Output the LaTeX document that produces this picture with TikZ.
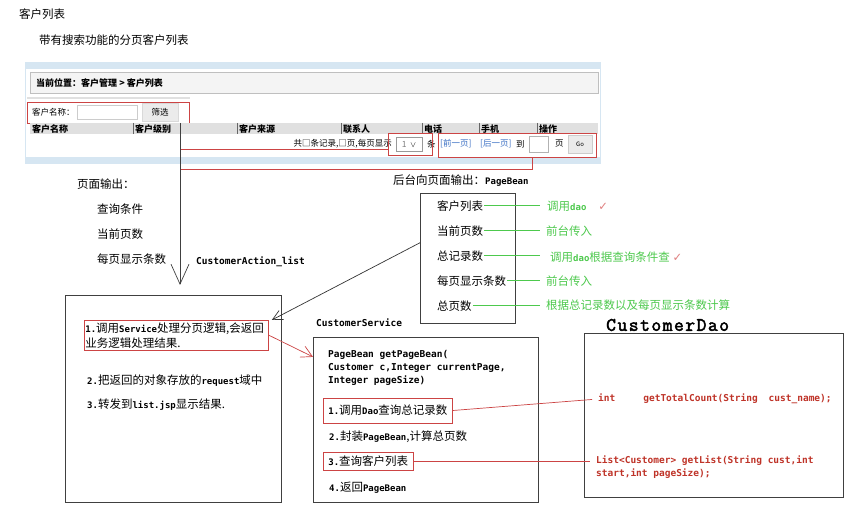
\documentclass[tikz,border=0pt]{standalone}
\usepackage{fontspec}
\setmainfont{Noto Sans CJK SC}
\newfontfamily\codefont{DejaVu Sans Mono}
\newfontfamily\daofont{Latin Modern Mono}[AutoFakeBold=2.5,LetterSpace=8]
\newfontfamily\symfont{DejaVu Sans}
\usetikzlibrary{arrows.meta,positioning,calc}
\definecolor{MarkRed}{HTML}{CC4444}
\definecolor{CodeRed}{HTML}{BF3328}
\definecolor{NoteGreen}{HTML}{4DC94D}
\definecolor{TickRed}{HTML}{E08080}
\definecolor{LinkBlue}{HTML}{3A6FC4}
\definecolor{PanelBlue}{HTML}{D6E6F2}
\definecolor{BarGrey}{HTML}{F4F4F4}
\definecolor{HeadGrey}{HTML}{E0E0E0}
\newcommand\cd[1]{{\codefont\bfseries\fontsize{9}{11}\selectfont #1}}
\newcommand\tick{{\symfont\color{TickRed}✓}}
\tikzset{
  txt/.style={anchor=west,inner sep=0pt},
  box/.style={draw=black!75,line width=0.9pt,anchor=north west,inner sep=0pt},
  markbox/.style={draw=MarkRed,line width=0.8pt},
  small/.style={font=\fontsize{8.5}{10}\selectfont},
  code/.style={font=\codefont\bfseries\fontsize{9.5}{13}\selectfont},
  link/.style={line width=0.7pt}
}

\begin{document}
\begin{tikzpicture}[x=1pt,y=-1pt,font=\fontsize{11.5}{15}\selectfont]
  \useasboundingbox[fill=white] (0,0) rectangle (844,505);
  % page title
  \node[txt] (title) at (19,14) {客户列表};
  \node[txt] (subtitle) at (39,40) {带有搜索功能的分页客户列表};

  % screenshot of the list page
  \node[draw=PanelBlue,fill=white,anchor=north west,inner sep=0pt,minimum width=575,minimum height=101] (panel) at (25,62) {};
  \fill[PanelBlue] (25,62) rectangle (600,69);
  \fill[PanelBlue] (25,157) rectangle (600,163);
  \node[draw=black!25,fill=BarGrey,anchor=north west,inner sep=0pt,minimum width=568,minimum height=21] (crumb) at (30,72) {};
  \node[txt,font=\bfseries\fontsize{9}{11}\selectfont,right=6pt of crumb.west] (crumbtext) {当前位置：客户管理 > 客户列表};
  \draw[black!12,line width=1.5pt] (27,98) -- (190,98);
  \node[markbox,anchor=north west,inner sep=0pt,minimum width=162,minimum height=21] (search) at (27,102) {};
  \node[txt,small] (namelabel) at (32,112) {客户名称：};
  \node[draw=black!20,fill=white,anchor=west,inner sep=0pt,minimum width=60,minimum height=14] (namefield) at (77,112) {};
  \node[draw=black!15,fill=black!8,inner sep=0pt,minimum width=36,minimum height=18,small] (filterbtn) at (160,112) {筛选};
  \fill[HeadGrey] (30,123) rectangle (598,134);
  \draw[black!60] (133,123) -- (133,134) (237,123) -- (237,134) (341,123) -- (341,134)
                  (422,123) -- (422,134) (479,123) -- (479,134) (537,123) -- (537,134);
  \node[txt,font=\bfseries\fontsize{9}{10}\selectfont] (hName) at (32,129) {客户名称};
  \node[txt,font=\bfseries\fontsize{9}{10}\selectfont] (hLevel) at (135,129) {客户级别};
  \node[txt,font=\bfseries\fontsize{9}{10}\selectfont] (hSource) at (239,129) {客户来源};
  \node[txt,font=\bfseries\fontsize{9}{10}\selectfont] (hLinkman) at (343,129) {联系人};
  \node[txt,font=\bfseries\fontsize{9}{10}\selectfont] (hPhone) at (424,129) {电话};
  \node[txt,font=\bfseries\fontsize{9}{10}\selectfont] (hMobile) at (481,129) {手机};
  \node[txt,font=\bfseries\fontsize{9}{10}\selectfont] (hAction) at (539,129) {操作};
  % pager
  \node[anchor=east,inner sep=0pt,small] (count) at (392,144) {共□条记录,□页,每页显示};
  \node[draw=black!40,inner sep=0pt,minimum width=26,minimum height=14,small] (pagesize) at (409,144) {\textcolor{black!50}{1}\ \ $\vee$};
  \node[txt,small] (unit) at (427,144) {条};
  \node[txt,small,LinkBlue] (prevpage) at (440,144) {[前一页]};
  \node[txt,small,LinkBlue] (nextpage) at (480,144) {[后一页]};
  \node[txt,small] (goto) at (516,144) {到};
  \node[draw=black!30,fill=white,inner sep=0pt,minimum width=19,minimum height=16] (pagefield) at (539,144) {};
  \node[txt,small] (pageunit) at (555,144) {页};
  \node[draw=black!20,fill=black!8,inner sep=0pt,minimum width=24,minimum height=18,font=\fontsize{6}{7}\selectfont] (gobtn) at (580,144) {Go};
  \node[markbox,inner sep=0pt,minimum width=44,minimum height=22] (selmark) at (410,144) {};
  \node[markbox,inner sep=0pt,minimum width=158,minimum height=24] (pagermark) at (517,145) {};

  % what the page sends
  \coordinate (drop) at (180,123);
  \coordinate (turn) at (180,169);
  \draw[MarkRed,link] ([yshift=-5pt]selmark.west) -- ([yshift=-5pt]selmark.west -| drop);
  \draw[MarkRed,link] ([xshift=15pt]pagermark.south) |- (turn);
  \node[txt] (pageout) at (77,184) {页面输出：};
  \node[txt] (inQuery) at (97,209) {查询条件};
  \node[txt] (inPage) at (97,234) {当前页数};
  \node[txt] (inSize) at (97,259) {每页显示条数};
  \node[txt,code] (actlabel) at (196,262) {CustomerAction\_list};

  % PageBean
  \node[txt] (beanout) at (393,181) {后台向页面输出：\cd{PageBean}};
  \node[box,minimum width=95,minimum height=130] (pb) at (420,193) {};
  \node[txt] (pbList) at (437,206) {客户列表};
  \node[txt] (pbPage) at (437,231) {当前页数};
  \node[txt] (pbTotal) at (437,256) {总记录数};
  \node[txt] (pbSize) at (437,281) {每页显示条数};
  \node[txt] (pbPages) at (437,306) {总页数};
  \node[txt,NoteGreen] (noteList) at (547,206) {调用\cd{dao}\hspace{12pt}\tick};
  \node[txt,NoteGreen] (notePage) at (546,231) {前台传入};
  \node[txt,NoteGreen] (noteTotal) at (550,257) {调用\cd{dao}根据查询条件查\ \tick};
  \node[txt,NoteGreen] (noteSize) at (546,281) {前台传入};
  \node[txt,NoteGreen] (notePages) at (546,305) {根据总记录数以及每页显示条数计算};
  \draw[NoteGreen,line width=1pt,shorten <=1pt,shorten >=7pt] (pbList.east) -- (pbList.east -| noteList.west);
  \draw[NoteGreen,line width=1pt,shorten <=1pt,shorten >=6pt] (pbPage.east) -- (pbPage.east -| notePage.west);
  \draw[NoteGreen,line width=1pt,shorten <=1pt,shorten >=10pt] (pbTotal.east) -- (pbTotal.east -| noteTotal.west);
  \draw[NoteGreen,line width=1pt,shorten <=1pt,shorten >=6pt] (pbSize.east) -- (pbSize.east -| noteSize.west);
  \draw[NoteGreen,line width=1pt,shorten <=1pt,shorten >=6pt] (pbPages.east) -- (pbPages.east -| notePages.west);

  % CustomerAction_list
  \node[box,minimum width=216,minimum height=207] (act) at (65,295) {};
  \node[markbox,anchor=north west,align=left,inner xsep=1pt,inner ysep=2pt,text width=182] (actStep1) at (84,320) {\cd{1.}调用\cd{Service}处理分页逻辑,会返回\\业务逻辑处理结果.};
  \node[txt] (actStep2) at (87,381) {\cd{2.}把返回的对象存放的\cd{request}域中};
  \node[txt] (actStep3) at (87,405) {\cd{3.}转发到\cd{list.jsp}显示结果.};
  \draw[black!75,link,shorten >=10pt,-{Straight Barb[length=20pt,width=18pt]}] (drop) -- (drop |- act.north);
  \draw[black!80,link,-{Straight Barb[length=10pt,width=10pt]}] ($(pb.north west)!0.38!(pb.south west)$) -- ([xshift=3pt]actStep1.north east);

  % CustomerService
  \node[txt,code] (svclabel) at (316,323) {CustomerService};
  \node[box,minimum width=225,minimum height=165] (svc) at (313,337) {};
  \node[anchor=north west,inner sep=0pt,align=left,code] (sig) at (328,350) {PageBean getPageBean(\\Customer c,Integer currentPage,\\Integer pageSize)};
  \node[markbox,anchor=west,inner xsep=5pt,inner ysep=0pt,minimum height=25] (svcStep1) at (323,410.5) {\cd{1.}调用\cd{Dao}查询总记录数};
  \node[txt] (svcStep2) at (329,437) {\cd{2.}封装\cd{PageBean},计算总页数};
  \node[markbox,anchor=west,inner xsep=5pt,inner ysep=0pt,minimum height=18] (svcStep3) at (323,461.5) {\cd{3.}查询客户列表};
  \node[txt] (svcStep4) at (329,488) {\cd{4.}返回\cd{PageBean}};
  \draw[MarkRed,link,-{Straight Barb[length=11pt,width=12pt]}] (actStep1.east) -- ($(svc.north west)!0.12!(svc.south west)$);

  % CustomerDao
  \node[txt,font=\daofont\bfseries\fontsize{19}{21}\selectfont] (daolabel) at (606,325) {CustomerDao};
  \node[box,minimum width=259,minimum height=164] (dao) at (584,333) {};
  \node[txt,code,CodeRed] (daoCount) at (598,399) {int\hspace{28pt}getTotalCount(String\hspace{11pt}cust\_name);};
  \node[anchor=north west,inner sep=0pt,align=left,code,CodeRed] (daoList) at (596,456) {List<Customer> getList(String cust,int\\start,int pageSize);};
  \draw[MarkRed,link,shorten >=6pt] (svcStep1.east) -- (daoCount.west);
  \draw[MarkRed,link,shorten >=6pt] (svcStep3.east) -- (svcStep3.east -| daoList.west);
\end{tikzpicture}
\end{document}
